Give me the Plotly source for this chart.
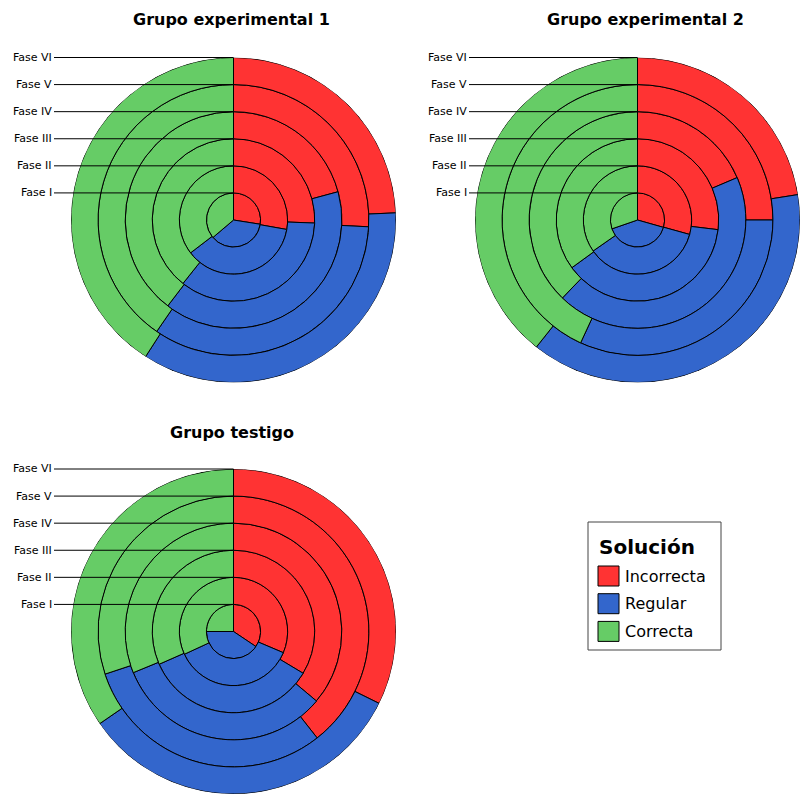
import plotly.graph_objects as go

# Rings (inner to outer) and answer categories
fases = ["Fase I", "Fase II", "Fase III", "Fase IV", "Fase V", "Fase VI"]
categorias = ["Incorrecta", "Regular", "Correcta"]
colores = ["#ff3333", "#3366cc", "#66cc66"]
grupos = ["Grupo experimental 1", "Grupo experimental 2", "Grupo testigo"]

# Percentage of answers per phase (Fase I ... Fase VI)
exp1_incorrecta = [27.5, 27.8, 25.6, 20.8, 25.8, 24.3]
exp1_regular = [36.3, 36.8, 35.1, 39.6, 33.8, 34.8]
exp1_correcta = [36.2, 35.4, 39.3, 39.6, 40.4, 40.9]

exp2_incorrecta = [29.4, 29.3, 26.9, 18.6, 25.0, 22.5]
exp2_regular = [40.3, 36.0, 38.1, 43.6, 31.9, 38.2]
exp2_correcta = [30.3, 34.7, 35.0, 37.8, 43.1, 39.3]

testigo_incorrecta = [34.4, 31.4, 33.6, 36.1, 39.4, 32.3]
testigo_regular = [40.6, 36.7, 34.8, 32.7, 30.5, 33.1]
testigo_correcta = [25.0, 31.9, 31.6, 31.2, 30.1, 34.6]

datos = [
    [exp1_incorrecta, exp1_regular, exp1_correcta],
    [exp2_incorrecta, exp2_regular, exp2_correcta],
    [testigo_incorrecta, testigo_regular, testigo_correcta],
]

# Page geometry (pixels)
W, H = 800, 794
R = 162.5
geom = [
    dict(cx=233.5, cy=220.0, tx=232, ty=19.5, lx=53),
    dict(cx=637.5, cy=220.0, tx=645, ty=19.5, lx=468),
    dict(cx=233.5, cy=631.5, tx=232, ty=432, lx=53),
]
FONT = "DejaVu Sans"


def px(x):
    return x / W


def py(y):
    return 1 - y / H


fig = go.Figure()
shapes = []
annotations = []
polars = {}

for g, (nombre, series, gm) in enumerate(zip(grupos, datos, geom)):
    key = "polar" if g == 0 else f"polar{g + 1}"
    n = len(fases)
    # angular position / width of each slice, ring by ring
    thetas = [[0.0] * n for _ in categorias]
    widths = [[0.0] * n for _ in categorias]
    for j in range(n):
        total = sum(s[j] for s in series)
        start = 0.0
        for c, s in enumerate(series):
            w = s[j] / total * 360.0
            thetas[c][j] = start + w / 2
            widths[c][j] = w
            start += w
    for c, cat in enumerate(categorias):
        fig.add_trace(go.Barpolar(
            r=[1] * n,
            base=list(range(n)),
            theta=thetas[c],
            width=widths[c],
            name=cat,
            customdata=series[c],
            hovertemplate=cat + ": %{customdata}%<extra></extra>",
            marker=dict(color=colores[c], line=dict(color="black", width=1)),
            subplot=key,
            showlegend=False,
        ))

    cx, cy = gm["cx"], gm["cy"]
    polars[key] = dict(
        domain=dict(x=[max(px(cx - R), 0), min(px(cx + R), 1)],
                    y=[max(py(cy + R), 0), min(py(cy - R), 1)]),
        bgcolor="white",
        angularaxis=dict(direction="clockwise", rotation=90, visible=False,
                         showgrid=False, showline=False),
        radialaxis=dict(range=[0, n], visible=False, showgrid=False,
                        showline=False),
    )

    # title
    annotations.append(dict(
        text="<b>" + nombre + "</b>", x=px(gm["tx"]), y=py(gm["ty"]),
        xref="paper", yref="paper", xanchor="center", yanchor="middle",
        showarrow=False, font=dict(family=FONT, size=16, color="black"),
    ))
    # phase labels with leader lines to the top of each ring
    u = R / n
    for k, fase in enumerate(fases, start=1):
        yk = cy - k * u
        shapes.append(dict(
            type="line", xref="paper", yref="paper", layer="above",
            x0=px(gm["lx"] + 1), x1=px(cx), y0=py(yk), y1=py(yk),
            line=dict(color="black", width=1),
        ))
        annotations.append(dict(
            text=fase, x=px(gm["lx"] + 1), y=py(yk), xref="paper", yref="paper",
            xanchor="right", yanchor="middle", showarrow=False,
            font=dict(family=FONT, size=11, color="black"),
        ))

# legend box
lg = dict(x0=588, x1=721, y0=522, y1=650)
shapes.append(dict(type="rect", xref="paper", yref="paper", layer="above",
                   x0=px(lg["x0"]), x1=px(lg["x1"]),
                   y0=py(lg["y1"]), y1=py(lg["y0"]),
                   line=dict(color="#444444", width=1), fillcolor="white"))
annotations.append(dict(
    text="<b>Solución</b>", x=px(597), y=py(547), xref="paper", yref="paper",
    xanchor="left", yanchor="middle", showarrow=False,
    font=dict(family=FONT, size=20, color="black"),
))
for c, (cat, col) in enumerate(zip(categorias, colores)):
    yc = 576 + c * 27.7
    shapes.append(dict(type="rect", xref="paper", yref="paper", layer="above",
                       x0=px(598), x1=px(619), y0=py(yc + 10), y1=py(yc - 10),
                       line=dict(color="black", width=1), fillcolor=col))
    annotations.append(dict(
        text=cat, x=px(623), y=py(yc), xref="paper", yref="paper",
        xanchor="left", yanchor="middle", showarrow=False,
        font=dict(family=FONT, size=16, color="black"),
    ))

fig.update_layout(
    width=W, height=H,
    margin=dict(l=0, r=0, t=0, b=0),
    paper_bgcolor="white",
    plot_bgcolor="white",
    showlegend=False,
    shapes=shapes,
    annotations=annotations,
    **polars,
)

fig.write_html("out.html")
